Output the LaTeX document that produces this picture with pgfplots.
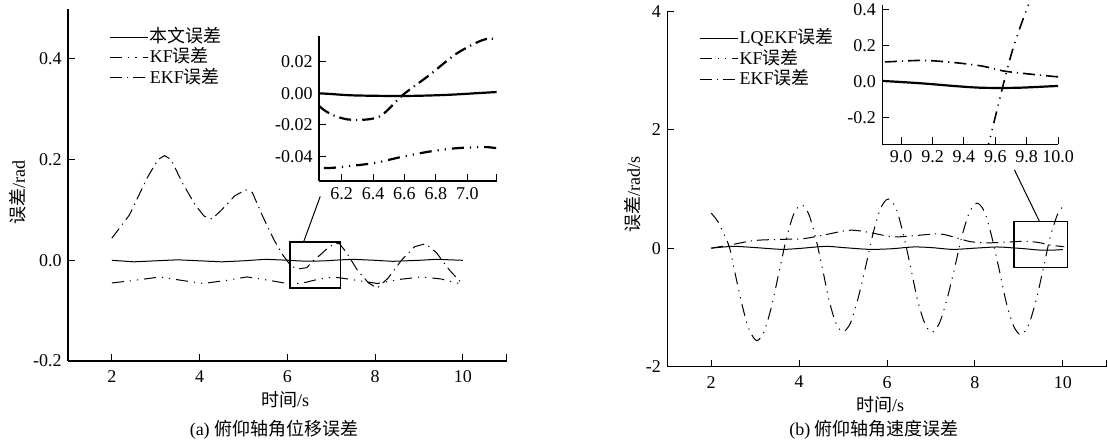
\documentclass[border=0pt]{standalone}
\usepackage{fontspec}
\setmainfont{Liberation Serif}
\newfontfamily\cjk{Noto Sans CJK SC}
\usepackage{pgfplots}
\usepackage{pgfplotstable}
\pgfplotsset{compat=1.18}

\pgfplotstableread{
x y
2.0 0.0
2.5 -0.003
3.0 -0.001
3.5 0.001
4.0 -0.001
4.5 -0.003
5.0 -0.001
5.5 0.002
6.05 0.0
6.27 -0.0013
6.59 -0.0017
6.87 -0.001
7.19 0.0008
7.5 0.002
8.0 0.0
8.4 -0.002
9.0 0.0
9.4 0.002
10.0 0.0
}\Lsol

\pgfplotstableread{
x y
2.0 -0.045
2.5 -0.040
3.1 -0.033
3.6 -0.040
4.08 -0.046
4.6 -0.040
5.08 -0.033
5.6 -0.040
6.05 -0.047
6.27 -0.0457
6.42 -0.0438
6.59 -0.040
6.76 -0.0368
6.93 -0.0347
7.1 -0.034
7.19 -0.0347
7.6 -0.040
8.05 -0.046
8.55 -0.038
9.05 -0.033
9.5 -0.037
10.0 -0.048
}\Lkf

\pgfplotstableread{
x y
2.0 0.044
2.4 0.09
2.8 0.163
3.05 0.2
3.2 0.208
3.35 0.2
3.6 0.155
3.9 0.11
4.1 0.088
4.28 0.082
4.5 0.1
4.8 0.128
5.05 0.14
5.2 0.135
5.45 0.085
5.7 0.04
5.9 0.01
6.05 -0.0074
6.15 -0.014
6.27 -0.0168
6.44 -0.0147
6.59 -0.001
6.76 0.0116
6.93 0.025
7.1 0.0337
7.19 0.033
7.35 0.015
7.6 -0.02
7.85 -0.045
8.05 -0.055
8.3 -0.035
8.6 0.0
8.9 0.027
9.15 0.033
9.4 0.015
9.7 -0.02
10.0 -0.048
}\Lekf

\pgfplotstableread{
x y
2.0 0.0
2.5 0.03
3.0 0.01
3.6 -0.02
4.0 -0.005
4.6 0.03
5.0 0.01
5.6 -0.02
6.1 -0.01
6.6 0.02
7.0 0.01
7.5 -0.02
8.0 0.0
8.5 0.02
8.88 0.004
9.14 -0.01
9.35 -0.025
9.52 -0.034
9.74 -0.034
9.97 -0.025
10.0 -0.024
}\Rsol

\pgfplotstableread{
x y
2.0 0.59
2.15 0.45
2.3 0.22
2.42 0.0
2.55 -0.45
2.7 -0.95
2.85 -1.35
3.03 -1.56
3.20 -1.41
3.37 -0.99
3.54 -0.415
3.71 0.16
3.88 0.58
4.05 0.73
4.21 0.59
4.37 0.195
4.53 -0.34
4.68 -0.875
4.84 -1.27
5.0 -1.41
5.17 -1.26
5.34 -0.85
5.52 -0.29
5.69 0.27
5.86 0.68
6.03 0.83
6.20 0.68
6.36 0.27
6.53 -0.295
6.69 -0.86
6.86 -1.27
7.02 -1.42
7.19 -1.27
7.36 -0.875
7.54 -0.33
7.71 0.215
7.88 0.61
8.05 0.76
8.22 0.61
8.38 0.205
8.55 -0.35
8.71 -0.905
8.88 -1.31
9.04 -1.46
9.21 -1.32
9.38 -0.915
9.55 -0.37
9.71 0.175
9.88 0.57
10.0 0.70
}\Rkf

\pgfplotstableread{
x y
2.0 0.0
2.4 0.05
3.0 0.13
3.7 0.15
4.1 0.16
4.55 0.22
5.1 0.30
5.4 0.29
5.7 0.25
6.15 0.19
6.6 0.21
7.2 0.24
7.6 0.17
7.9 0.11
8.3 0.09
8.88 0.109
9.14 0.118
9.35 0.105
9.52 0.086
9.67 0.057
9.97 0.029
10.0 0.028
}\Rekf

\pgfplotsset{
  base/.style={
    scale only axis,
    axis x line*=bottom, axis y line*=left,
    tick align=inside, major tick length=3.5pt,
    tick style={black, line width=0.5pt},
    axis line style={line width=0.6pt},
    /pgf/number format/assume math mode=true,
    scaled ticks=false,
    tick label style={font=\fontsize{9}{10}\selectfont},
  },
  sol/.style={black, line width=0.5pt},
  kf/.style={black, line width=0.5pt, dash pattern=on 6pt off 3pt on 0.6pt off 3pt on 0.6pt off 3pt},
  ekf/.style={black, line width=0.5pt, dash pattern=on 6pt off 2.5pt on 0.6pt off 2.5pt},
  leg/.style={
    legend cell align=left,
    legend image code/.code={\draw[##1] (0pt,0pt) -- (19pt,0pt);},
    legend style={draw=none, fill=none, inner sep=0pt, row sep=0.5pt,
      font=\fontsize{9}{10}\selectfont,
      nodes={inner sep=0.6pt, text height=7pt, text depth=1.5pt}},
  },
}

\begin{document}
\fontsize{9}{10}\selectfont
\begin{tikzpicture}
\useasboundingbox (0,0) rectangle (554pt,222pt);

% ---------- left main ----------
\begin{axis}[base, leg,
  at={(34pt,41.5pt)}, anchor=south west,
  width=219.35pt, height=176.2pt,
  xmin=1, xmax=11, ymin=-0.2, ymax=0.5,
  xtick={2,4,6,8,10}, ytick={-0.2,0,0.2,0.4},
  extra x ticks={11}, extra x tick labels={},
  yticklabel style={/pgf/number format/.cd, fixed, fixed zerofill, precision=1},
  xticklabel style={yshift=-1.5pt},
  legend style={at={(0.094,0.948)}, anchor=north west},
]
\addplot[sol] table {\Lsol};
\addlegendentry{{\cjk 本文误差}}
\addplot[kf] table {\Lkf};
\addlegendentry{KF{\cjk 误差}}
\addplot[ekf] table {\Lekf};
\addlegendentry{EKF{\cjk 误差}}
\draw[line width=0.6pt] (axis cs:6.06,-0.055) rectangle (axis cs:7.21,0.0365);
\draw[line width=0.5pt] (axis cs:6.37,0.0365) -- (axis cs:6.75,0.127);
\end{axis}

% ---------- left inset ----------
\begin{axis}[base,
  at={(159.5pt,131.5pt)}, anchor=south west,
  width=88.85pt, height=72.5pt,
  xmin=6.056, xmax=7.187, ymin=-0.0554, ymax=0.0362,
  xtick={6.2,6.4,6.6,6.8,7.0}, ytick={-0.04,-0.02,0,0.02},
  extra x ticks={7.187}, extra x tick labels={},
  xticklabel style={/pgf/number format/.cd, fixed, fixed zerofill, precision=1},
  yticklabel style={/pgf/number format/.cd, fixed, fixed zerofill, precision=2},
]
\addplot[sol, line width=1.1pt, smooth] table {\Lsol};
\addplot[kf, line width=1.1pt, smooth] table {\Lkf};
\addplot[ekf, line width=1.1pt, smooth] table {\Lekf};
\end{axis}

% ---------- right main ----------
\begin{axis}[base, leg,
  at={(333.65pt,38.65pt)}, anchor=south west,
  width=219.7pt, height=177.8pt,
  xmin=1, xmax=11, ymin=-2, ymax=4,
  xtick={2,4,6,8,10}, ytick={-2,0,2,4},
  extra x ticks={11}, extra x tick labels={},
  xticklabel style={yshift=-1.5pt},
  legend style={at={(0.072,0.952)}, anchor=north west},
]
\addplot[sol, smooth] table {\Rsol};
\addlegendentry{LQEKF{\cjk 误差}}
\addplot[kf, smooth] table {\Rkf};
\addlegendentry{KF{\cjk 误差}}
\addplot[ekf, smooth] table {\Rekf};
\addlegendentry{EKF{\cjk 误差}}
\draw[line width=0.6pt] (axis cs:8.89,-0.33) rectangle (axis cs:10.1,0.45);
\draw[line width=0.5pt] (axis cs:9.47,0.45) -- (axis cs:8.9,1.32);
\end{axis}

% ---------- right inset ----------
\begin{axis}[base,
  at={(441.15pt,149.85pt)}, anchor=south west,
  width=87.85pt, height=69.65pt,
  xmin=8.88, xmax=10.0, ymin=-0.348, ymax=0.426,
  xtick={9,9.2,9.4,9.6,9.8,10}, ytick={-0.2,0,0.2,0.4},
  xticklabel style={/pgf/number format/.cd, fixed, fixed zerofill, precision=1},
  yticklabel style={/pgf/number format/.cd, fixed, fixed zerofill, precision=1},
]
\addplot[sol, line width=1.1pt, smooth] table {\Rsol};
\addplot[kf, line width=0.8pt, smooth] table {\Rkf};
\addplot[ekf, line width=0.8pt, smooth] table {\Rekf};
\end{axis}

% ---------- labels ----------
\node[rotate=90] at (9pt,125.5pt) {{\cjk 误差}/rad};
\node[rotate=90] at (316.5pt,124.5pt) {{\cjk 误差}/rad/s};
\node at (142.5pt,22pt) {{\cjk 时间}/s};
\node at (440pt,19.5pt) {{\cjk 时间}/s};
\node at (137pt,7pt) {(a) {\cjk 俯仰轴角位移误差}};
\node at (437pt,7pt) {(b) {\cjk 俯仰轴角速度误差}};
\end{tikzpicture}
\end{document}
